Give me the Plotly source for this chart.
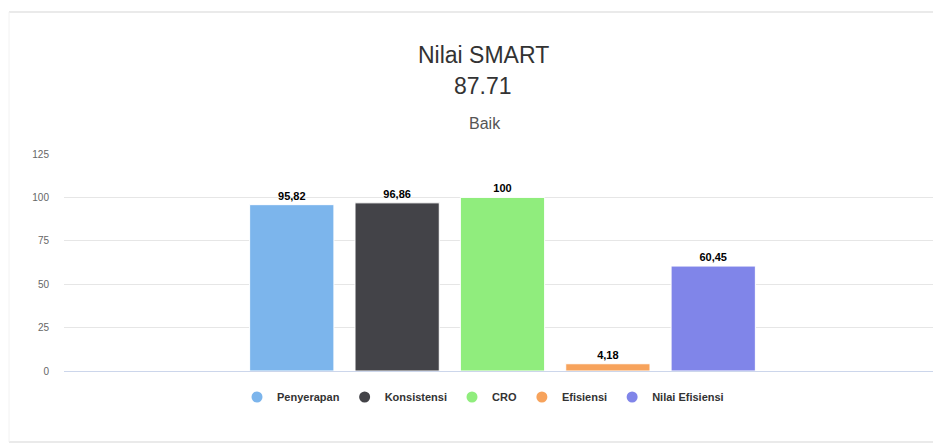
import plotly.graph_objects as go

# ---- data ----
series_names = ["Penyerapan", "Konsistensi", "CRO", "Efisiensi", "Nilai Efisiensi"]
series_values = [95.82, 96.86, 100, 4.18, 60.45]
series_colors = ["#7cb5ec", "#434348", "#90ed7d", "#f7a35c", "#8085e9"]
category = [""]
y_ticks = [0, 25, 50, 75, 100, 125]
title_text = "Nilai SMART"
score_text = "87.71"
grade_text = "Baik"

W, H = 933, 444
L, R, T, B = 64, 0, 154, 444 - 371
PW, PH = W - L - R, H - T - B

def px_x(px):
    return (px - L) / PW

def px_y(py):
    return (H - B - py) / PH

FONT = "Liberation Sans, Arial, sans-serif"

fig = go.Figure()
for name, val, col in zip(series_names, series_values, series_colors):
    fig.add_trace(go.Bar(
        x=category, y=[val], name=name,
        marker=dict(color=col, line=dict(color="white", width=1)),
        texttemplate="%{y}", textposition="outside",
        textfont=dict(family=FONT, size=11, color="#000000", weight="bold"),
        showlegend=False, hoverinfo="skip", cliponaxis=False,
    ))
# legend entries with circle symbols
for name, col in zip(series_names, series_colors):
    fig.add_trace(go.Scatter(
        x=[None], y=[None], mode="markers", name=name,
        marker=dict(symbol="circle", size=11, color=col),
        showlegend=True, hoverinfo="skip",
    ))

# x range so that the single category group is centred at pixel 502.5
U = 878.0
center_px = 502.5
x0 = -(center_px - L) / U
x1 = (W - R - center_px) / U

fig.update_layout(
    width=W, height=H,
    margin=dict(l=L, r=R, t=T, b=B, pad=0),
    paper_bgcolor="white", plot_bgcolor="white",
    barmode="group", bargap=0.4, bargroupgap=0.2,
    separators=",.",
    font=dict(family=FONT, color="#333333"),
    xaxis=dict(range=[x0, x1], showticklabels=False, showgrid=False,
               zeroline=False, showline=False, fixedrange=True),
    yaxis=dict(range=[0, 125], tickvals=y_ticks, showgrid=True,
               gridcolor="#e6e6e6", gridwidth=1, zeroline=True,
               zerolinecolor="#ccd6eb", zerolinewidth=1,
               tickfont=dict(family=FONT, size=10, color="#666666"),
               ticklabelstandoff=14, showline=False),
    legend=dict(orientation="h", x=px_x(483), xanchor="center",
                y=px_y(397), yanchor="middle",
                font=dict(family=FONT, size=11, color="#333333", weight="bold"),
                itemwidth=30, tracegroupgap=0, bgcolor="rgba(0,0,0,0)"),
    showlegend=True,
)

fig.add_annotation(text=title_text, x=px_x(483), y=px_y(55), xref="paper", yref="paper",
                   showarrow=False, xanchor="center", yanchor="middle",
                   font=dict(family=FONT, size=23, color="#333333"))
fig.add_annotation(text=score_text, x=px_x(483), y=px_y(86), xref="paper", yref="paper",
                   showarrow=False, xanchor="center", yanchor="middle",
                   font=dict(family=FONT, size=23, color="#333333"))
fig.add_annotation(text=grade_text, x=px_x(485), y=px_y(123), xref="paper", yref="paper",
                   showarrow=False, xanchor="center", yanchor="middle",
                   font=dict(family=FONT, size=16, color="#555555"))

# card border lines
fig.add_shape(type="line", xref="paper", yref="paper",
              x0=px_x(9), x1=px_x(W + 5), y0=px_y(12), y1=px_y(12),
              line=dict(color="#e3e3e3", width=1.5))
fig.add_shape(type="line", xref="paper", yref="paper",
              x0=px_x(9), x1=px_x(W + 5), y0=px_y(442), y1=px_y(442),
              line=dict(color="#e3e3e3", width=1.5))
fig.add_shape(type="line", xref="paper", yref="paper",
              x0=px_x(9), x1=px_x(9), y0=px_y(12), y1=px_y(442),
              line=dict(color="#f2f2f2", width=1))

fig.write_html(
    "out.html",
    config={"displayModeBar": False},
    post_script="document.body.style.margin='0';document.body.style.overflow='hidden';",
)
